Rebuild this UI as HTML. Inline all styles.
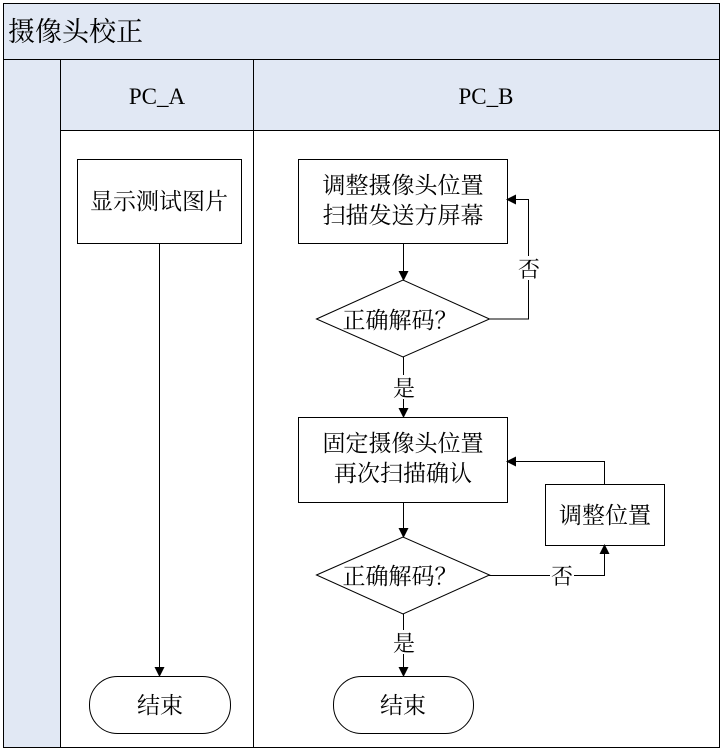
<!DOCTYPE html><html><head><meta charset="utf-8"><style>body{margin:0;background:#fff}svg text{font-family:"Liberation Serif","Noto Serif CJK SC",serif;fill:#000}</style></head><body>
<svg width="724" height="751" xmlns="http://www.w3.org/2000/svg">
<defs><marker id="a" markerWidth="10" markerHeight="10" refX="9" refY="5" orient="auto" markerUnits="userSpaceOnUse"><path d="M0,0 L10,5 L0,10z" fill="#000"/></marker></defs>
<rect x="3.5" y="3.5" width="716" height="744" fill="#fff" stroke="#000"/>
<rect x="3.5" y="3.5" width="716" height="56" fill="#e1e8f4" stroke="#000"/>
<rect x="3.5" y="59.5" width="57" height="688" fill="#e1e8f4" stroke="#000"/>
<rect x="60.5" y="59.5" width="659" height="71" fill="#e1e8f4" stroke="#000"/>
<line x1="253.5" y1="59" x2="253.5" y2="748" stroke="#000"/>
<text x="8" y="41" font-size="27">摄像头校正</text>
<text x="157" y="104" font-size="23" text-anchor="middle">PC_A</text>
<text x="486" y="104" font-size="23" text-anchor="middle">PC_B</text>
<g fill="#fff" stroke="#000">
<rect x="77.5" y="159.5" width="164" height="84"/>
<rect x="298.5" y="159.5" width="209" height="84"/>
<polygon points="316.5,319 403,280 489.5,319 403,357"/>
<rect x="298.5" y="417.5" width="209" height="85"/>
<polygon points="316.5,575 403,537 489.5,575 403,614"/>
<rect x="545.5" y="484.5" width="119" height="61"/>
<rect x="89.5" y="676.5" width="141" height="57" rx="28"/>
<rect x="333.5" y="676.5" width="140" height="57" rx="28"/>
</g>
<g stroke="#000" fill="none" stroke-width="1">
<line x1="159.5" y1="243" x2="159.5" y2="676" marker-end="url(#a)"/>
<line x1="403.5" y1="243" x2="403.5" y2="280" marker-end="url(#a)"/>
<polyline points="489,319 528.5,319 528.5,199.5 507,199.5" marker-end="url(#a)"/>
<line x1="403.5" y1="357" x2="403.5" y2="417" marker-end="url(#a)"/>
<line x1="403.5" y1="502" x2="403.5" y2="537" marker-end="url(#a)"/>
<polyline points="489,575.5 604.5,575.5 604.5,545" marker-end="url(#a)"/>
<polyline points="604.5,484 604.5,461.5 507,461.5" marker-end="url(#a)"/>
<line x1="403.5" y1="614" x2="403.5" y2="676" marker-end="url(#a)"/>
</g>
<rect x="517" y="256" width="24" height="24" fill="#fff"/>
<text x="529" y="277" font-size="22" text-anchor="middle">否</text>
<rect x="550" y="563" width="24" height="24" fill="#fff"/>
<text x="562" y="584" font-size="22" text-anchor="middle">否</text>
<rect x="392" y="375" width="24" height="24" fill="#fff"/>
<text x="404" y="396" font-size="22" text-anchor="middle">是</text>
<rect x="392" y="630" width="24" height="24" fill="#fff"/>
<text x="404" y="651" font-size="22" text-anchor="middle">是</text>
<g font-size="23" text-anchor="middle">
<text x="159" y="209">显示测试图片</text>
<text x="403" y="193">调整摄像头位置</text>
<text x="403" y="223">扫描发送方屏幕</text>
<text x="400" y="328">正确解码？</text>
<text x="403" y="451">固定摄像头位置</text>
<text x="403" y="481">再次扫描确认</text>
<text x="400" y="584">正确解码？</text>
<text x="605" y="523">调整位置</text>
<text x="160" y="713">结束</text>
<text x="403" y="713">结束</text>
</g>
</svg></body></html>
